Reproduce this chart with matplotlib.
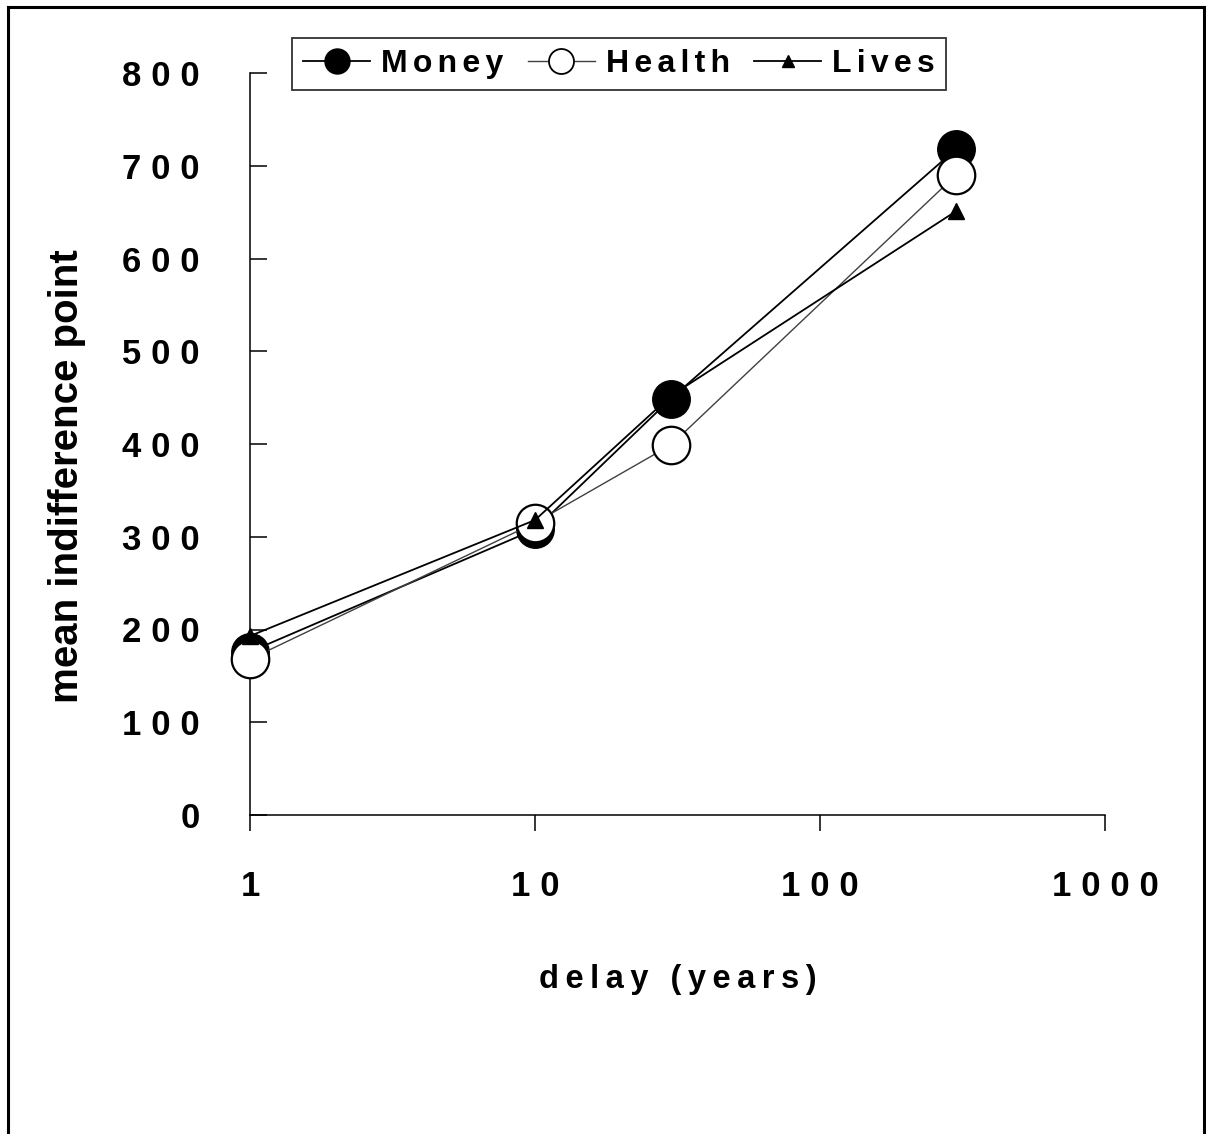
import matplotlib
matplotlib.use('Agg')
import matplotlib.pyplot as plt
from matplotlib.lines import Line2D
from matplotlib.ticker import FuncFormatter, NullLocator

# delay values (years) and mean indifference points per domain
delay = [1, 10, 30, 300]
money = [176, 308, 449, 718]
health = [168, 315, 399, 690]
lives = [193, 318, 452, 651]

y_ticks = [0, 100, 200, 300, 400, 500, 600, 700, 800]
x_ticks = [1, 10, 100, 1000]

THIN = '\u2009'
HAIR = '\u200a'


def spaced(s, gap=THIN):
    return gap.join(s)


plt.rcParams['font.family'] = ['Liberation Sans', 'DejaVu Sans']
plt.rcParams['font.weight'] = 'bold'
plt.rcParams['axes.labelweight'] = 'bold'

W, H = 1206, 1134
fig = plt.figure(figsize=(W / 100, H / 100), dpi=100)
ax = fig.add_axes([250 / W, 1 - 815 / H, 855 / W, 742 / H])

ax.plot(delay, money, color='black', lw=1.3, marker='o', ms=27,
        mfc='black', mec='black', zorder=3, clip_on=False)
ax.plot(delay, health, color='#404040', lw=1.0, marker='o', ms=27,
        mfc='white', mec='black', mew=1.6, zorder=4, clip_on=False)
ax.plot(delay, lives, color='black', lw=1.3, marker='^', ms=11,
        mfc='black', mec='black', zorder=5, clip_on=False)

ax.set_xscale('log')
ax.set_xlim(1, 1000)
ax.set_ylim(0, 800)
ax.set_xticks(x_ticks)
ax.xaxis.set_minor_locator(NullLocator())
ax.set_yticks(y_ticks)
tick_gap = THIN + HAIR
ax.xaxis.set_major_formatter(FuncFormatter(lambda v, p: spaced('%d' % v, tick_gap)))
ax.yaxis.set_major_formatter(FuncFormatter(lambda v, p: spaced('%d' % v, tick_gap)))

ax.tick_params(axis='y', direction='in', length=12, width=1.1, pad=36,
               labelsize=25)
ax.tick_params(axis='x', direction='out', length=11.5, width=1.1, pad=28,
               labelsize=25)

for side in ['top', 'right']:
    ax.spines[side].set_visible(False)
for side in ['left', 'bottom']:
    ax.spines[side].set_linewidth(1.1)

ax.set_xlabel(spaced('delay (years)'), fontsize=23.5, labelpad=44)
ax.set_ylabel('mean indifference point', fontsize=29)
ax.yaxis.set_label_coords(-0.192, 0.457)

# legend handles drawn at their own sizes
handles = [
    Line2D([], [], color='black', lw=1.3, marker='o', ms=18, mfc='black', mec='black'),
    Line2D([], [], color='#404040', lw=1.0, marker='o', ms=18, mfc='white',
           mec='black', mew=1.3),
    Line2D([], [], color='black', lw=1.3, marker='^', ms=8, mfc='black', mec='black'),
]
labels = [spaced(s, HAIR + HAIR) for s in ['Money', 'Health', 'Lives']]
leg = fig.legend(handles, labels, loc='upper left',
                 bbox_to_anchor=(292 / W, 1 - 38 / H), ncol=3, fontsize=23,
                 frameon=True, fancybox=False, edgecolor='black',
                 handlelength=2.1, handletextpad=0.35, columnspacing=0.75,
                 borderpad=0.35, borderaxespad=0)
leg.get_frame().set_linewidth(1.3)

# outer frame around the whole chart
for xs, ys in [([8 / W, 8 / W], [0, 1 - 7 / H]),
               ([8 / W, 1204 / W], [1 - 7 / H, 1 - 7 / H]),
               ([1204 / W, 1204 / W], [0, 1 - 7 / H])]:
    fig.add_artist(Line2D(xs, ys, color='black', lw=2.2,
                          transform=fig.transFigure))

fig.savefig('out.png', dpi=100)
